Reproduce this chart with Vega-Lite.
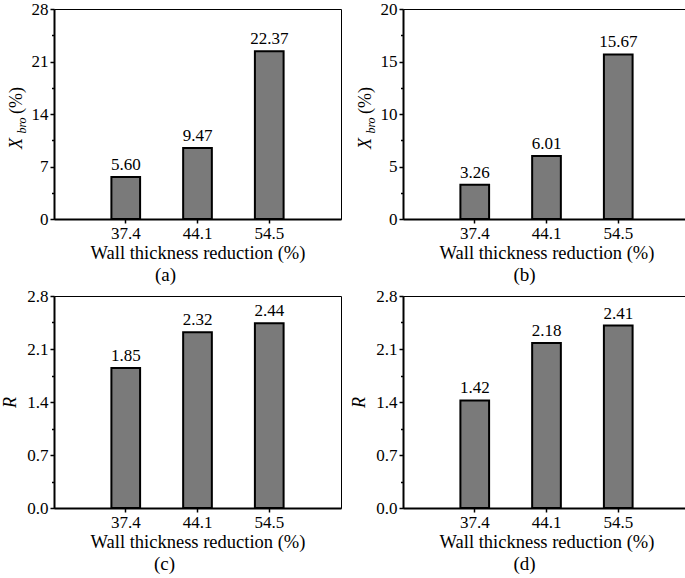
{
  "$schema": "https://vega.github.io/schema/vega-lite/v6.json",
  "background": "white",
  "padding": {"left": 1, "top": -1, "right": 0, "bottom": 0},
  "datasets": {
    "a": [
      {"reduction": "37.4", "value": 5.60},
      {"reduction": "44.1", "value": 9.47},
      {"reduction": "54.5", "value": 22.37}
    ],
    "b": [
      {"reduction": "37.4", "value": 3.26},
      {"reduction": "44.1", "value": 6.01},
      {"reduction": "54.5", "value": 15.67}
    ],
    "c": [
      {"reduction": "37.4", "value": 1.85},
      {"reduction": "44.1", "value": 2.32},
      {"reduction": "54.5", "value": 2.44}
    ],
    "d": [
      {"reduction": "37.4", "value": 1.42},
      {"reduction": "44.1", "value": 2.18},
      {"reduction": "54.5", "value": 2.41}
    ]
  },
  "columns": 2,
  "spacing": {"row": 1, "column": 8},
  "concat": [
    {
      "width": 287, "height": 210,
      "title": {"text": "(a)", "dx": -32, "frame": "group"},
      "data": {"name": "a"},
      "encoding": {
        "x": {"field": "reduction", "type": "ordinal", "sort": null,
          "scale": {"paddingInner": 0.6, "paddingOuter": 0.8},
          "axis": {"title": "Wall thickness reduction (%)", "labelAngle": 0, "domainWidth": 2, "tickSize": 4, "tickWidth": 1.5, "labelPadding": 2, "titlePadding": 2, "bandPosition": 0.5}}
      },
      "layer": [
        {
          "mark": {"type": "bar", "color": "#7a7a7a", "strokeWidth": 0},
          "encoding": {"y": {"field": "value", "type": "quantitative", "scale": {"domain": [0, 28], "nice": false},
            "axis": {"orient": "left", "values": [0, 7, 14, 21, 28], "tickSize": 4, "tickWidth": 1.5, "domainWidth": 2, "labelPadding": 2,
              "title": "X", "titleFontStyle": "italic", "titleFontSize": 18, "titleX": -33, "titleY": 134, "titleBaseline": "alphabetic", "titleAlign": "center", "titleAngle": 270}}}
        },
        {
          "mark": {"type": "text", "baseline": "bottom", "dy": -3, "fontSize": 17, "color": "black"},
          "encoding": {
            "y": {"field": "value", "type": "quantitative",
              "axis": {"orient": "left", "values": [3.5, 10.5, 17.5, 24.5], "labels": false, "domain": false, "tickSize": 2.5, "tickWidth": 1.5,
                "title": "bro", "titleFontStyle": "italic", "titleFontSize": 12, "titleX": -29, "titleY": 116, "titleBaseline": "alphabetic", "titleAlign": "center", "titleAngle": 270}},
            "text": {"field": "value", "type": "quantitative", "format": ".2f"}
          }
        },
        {
          "mark": {"type": "bar", "filled": false, "stroke": "black", "strokeWidth": 2},
          "encoding": {"y": {"field": "value", "type": "quantitative",
            "axis": {"orient": "left", "labels": false, "ticks": false, "domain": false,
              "title": "(%)", "titleFontSize": 18, "titleX": -33, "titleY": 91, "titleBaseline": "alphabetic", "titleAlign": "center", "titleAngle": 270}}}
        }
      ],
      "resolve": {"axis": {"y": "independent"}}
    },
    {
      "width": 287, "height": 210,
      "title": {"text": "(b)", "dx": -22, "frame": "group"},
      "data": {"name": "b"},
      "encoding": {
        "x": {"field": "reduction", "type": "ordinal", "sort": null,
          "scale": {"paddingInner": 0.6, "paddingOuter": 0.8},
          "axis": {"title": "Wall thickness reduction (%)", "labelAngle": 0, "domainWidth": 2, "tickSize": 4, "tickWidth": 1.5, "labelPadding": 2, "titlePadding": 2, "bandPosition": 0.5}}
      },
      "layer": [
        {
          "mark": {"type": "bar", "color": "#7a7a7a", "strokeWidth": 0},
          "encoding": {"y": {"field": "value", "type": "quantitative", "scale": {"domain": [0, 20], "nice": false},
            "axis": {"orient": "left", "values": [0, 5, 10, 15, 20], "tickSize": 4, "tickWidth": 1.5, "domainWidth": 2, "labelPadding": 2,
              "title": "X", "titleFontStyle": "italic", "titleFontSize": 18, "titleX": -33, "titleY": 134, "titleBaseline": "alphabetic", "titleAlign": "center", "titleAngle": 270}}}
        },
        {
          "mark": {"type": "text", "baseline": "bottom", "dy": -3, "fontSize": 17, "color": "black"},
          "encoding": {
            "y": {"field": "value", "type": "quantitative",
              "axis": {"orient": "left", "values": [2.5, 7.5, 12.5, 17.5], "labels": false, "domain": false, "tickSize": 2.5, "tickWidth": 1.5,
                "title": "bro", "titleFontStyle": "italic", "titleFontSize": 12, "titleX": -29, "titleY": 116, "titleBaseline": "alphabetic", "titleAlign": "center", "titleAngle": 270}},
            "text": {"field": "value", "type": "quantitative", "format": ".2f"}
          }
        },
        {
          "mark": {"type": "bar", "filled": false, "stroke": "black", "strokeWidth": 2},
          "encoding": {"y": {"field": "value", "type": "quantitative",
            "axis": {"orient": "left", "labels": false, "ticks": false, "domain": false,
              "title": "(%)", "titleFontSize": 18, "titleX": -33, "titleY": 91, "titleBaseline": "alphabetic", "titleAlign": "center", "titleAngle": 270}}}
        }
      ],
      "resolve": {"axis": {"y": "independent"}}
    },
    {
      "width": 287, "height": 212,
      "title": {"text": "(c)", "dx": -33, "frame": "group"},
      "data": {"name": "c"},
      "encoding": {
        "x": {"field": "reduction", "type": "ordinal", "sort": null,
          "scale": {"paddingInner": 0.6, "paddingOuter": 0.8},
          "axis": {"title": "Wall thickness reduction (%)", "labelAngle": 0, "domainWidth": 2, "tickSize": 4, "tickWidth": 1.5, "labelPadding": 2, "titlePadding": 2, "bandPosition": 0.5}}
      },
      "layer": [
        {
          "mark": {"type": "bar", "color": "#7a7a7a", "strokeWidth": 0},
          "encoding": {"y": {"field": "value", "type": "quantitative", "scale": {"domain": [0, 2.8], "nice": false},
            "axis": {"orient": "left", "values": [0, 0.7, 1.4, 2.1, 2.8], "format": ".1f", "tickSize": 4, "tickWidth": 1.5, "domainWidth": 2, "labelPadding": 2,
              "title": "R", "titleFontStyle": "italic", "titleFontSize": 18, "titlePadding": 7}}}
        },
        {
          "mark": {"type": "text", "baseline": "bottom", "dy": -3, "fontSize": 17, "color": "black"},
          "encoding": {
            "y": {"field": "value", "type": "quantitative",
              "axis": {"orient": "left", "values": [0.35, 1.05, 1.75, 2.45], "labels": false, "domain": false, "tickSize": 2.5, "tickWidth": 1.5, "title": null}},
            "text": {"field": "value", "type": "quantitative", "format": ".2f"}
          }
        },
        {
          "mark": {"type": "bar", "filled": false, "stroke": "black", "strokeWidth": 2},
          "encoding": {"y": {"field": "value", "type": "quantitative", "axis": null}}
        }
      ],
      "resolve": {"axis": {"y": "independent"}}
    },
    {
      "width": 287, "height": 212,
      "title": {"text": "(d)", "dx": -22, "frame": "group"},
      "data": {"name": "d"},
      "encoding": {
        "x": {"field": "reduction", "type": "ordinal", "sort": null,
          "scale": {"paddingInner": 0.6, "paddingOuter": 0.8},
          "axis": {"title": "Wall thickness reduction (%)", "labelAngle": 0, "domainWidth": 2, "tickSize": 4, "tickWidth": 1.5, "labelPadding": 2, "titlePadding": 2, "bandPosition": 0.5}}
      },
      "layer": [
        {
          "mark": {"type": "bar", "color": "#7a7a7a", "strokeWidth": 0},
          "encoding": {"y": {"field": "value", "type": "quantitative", "scale": {"domain": [0, 2.8], "nice": false},
            "axis": {"orient": "left", "values": [0, 0.7, 1.4, 2.1, 2.8], "format": ".1f", "tickSize": 4, "tickWidth": 1.5, "domainWidth": 2, "labelPadding": 2,
              "title": "R", "titleFontStyle": "italic", "titleFontSize": 18, "titlePadding": 7}}}
        },
        {
          "mark": {"type": "text", "baseline": "bottom", "dy": -3, "fontSize": 17, "color": "black"},
          "encoding": {
            "y": {"field": "value", "type": "quantitative",
              "axis": {"orient": "left", "values": [0.35, 1.05, 1.75, 2.45], "labels": false, "domain": false, "tickSize": 2.5, "tickWidth": 1.5, "title": null}},
            "text": {"field": "value", "type": "quantitative", "format": ".2f"}
          }
        },
        {
          "mark": {"type": "bar", "filled": false, "stroke": "black", "strokeWidth": 2},
          "encoding": {"y": {"field": "value", "type": "quantitative", "axis": null}}
        }
      ],
      "resolve": {"axis": {"y": "independent"}}
    }
  ],
  "config": {
    "view": {"stroke": "black", "strokeWidth": 1},
    "font": "Times New Roman, Liberation Serif, DejaVu Serif, serif",
    "text": {"font": "Times New Roman, Liberation Serif, DejaVu Serif, serif"},
    "axis": {"labelFont": "Times New Roman, Liberation Serif, DejaVu Serif, serif", "titleFont": "Times New Roman, Liberation Serif, DejaVu Serif, serif", "labelColor": "black", "titleColor": "black",
      "domainColor": "black", "tickColor": "black", "grid": false, "labelFontSize": 17, "titleFontSize": 18.5, "titleFontWeight": "normal"},
    "title": {"font": "Times New Roman, Liberation Serif, DejaVu Serif, serif", "fontSize": 19, "fontWeight": "normal", "orient": "bottom", "offset": 4, "color": "black"}
  }
}
